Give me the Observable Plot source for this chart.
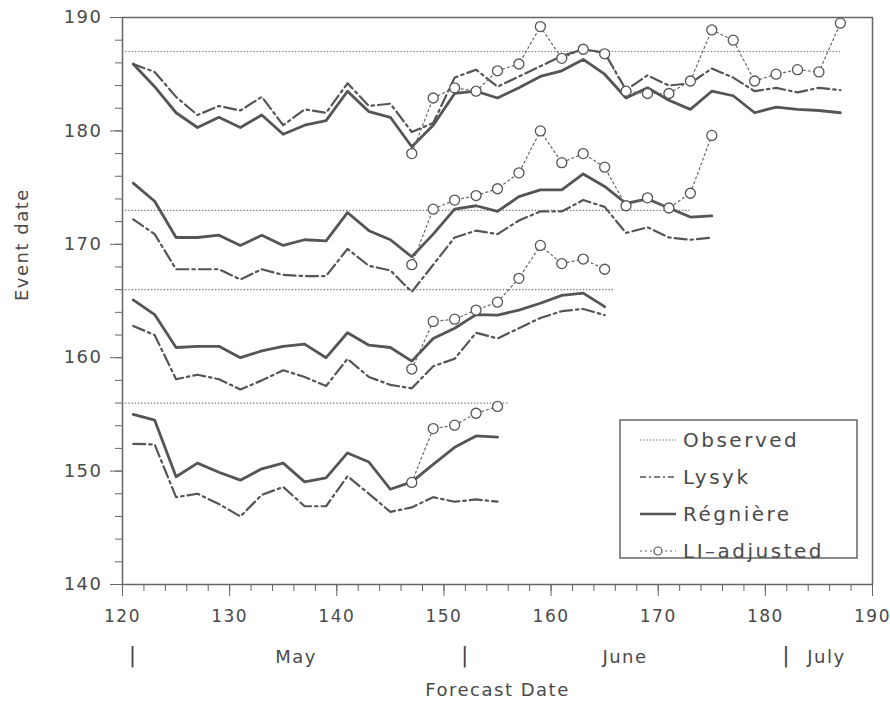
<!DOCTYPE html>
<html>
<head>
<meta charset="utf-8">
<script src="https://cdn.jsdelivr.net/npm/d3@7"></script>
<script src="https://cdn.jsdelivr.net/npm/@observablehq/plot@0.6"></script>
<style>
  body { margin: 0; background: #fff; }
  #chart { position: relative; width: 890px; height: 702px; }
  svg text { font-family: "DejaVu Sans", sans-serif; letter-spacing: 1.5px; }
</style>
</head>
<body>
<div id="chart"></div>
<script>
// Forecast issue days (day of year) and the days at which LI-adjusted forecasts exist
const forecastDays = [121,123,125,127,129,131,133,135,137,139,141,143,145,147,149,151,153,155,
  157,159,161,163,165,167,169,171,173,175,177,179,181,183,185,187];
const liDays = [147,149,151,153,155,157,159,161,163,165,167,169,171,173,175,177,179,181,183,185,187];

// Observed event dates
const observed = [187, 173, 166, 156];

// Event 187
const regniere187 = [185.9,183.9,181.6,180.3,181.2,180.3,181.4,179.7,180.5,180.9,183.5,181.7,181.2,178.6,180.5,183.3,183.5,
  182.9,183.8,184.8,185.3,186.3,185.0,182.9,183.8,182.7,181.9,183.5,183.1,181.6,182.1,181.9,181.8,181.6];
const lysyk187 = [185.9,185.2,183.0,181.4,182.2,181.8,183.0,180.5,181.9,181.6,184.2,182.2,182.4,179.9,180.7,184.7,185.4,
  183.9,184.8,185.7,186.6,187.2,186.9,183.6,184.9,184.0,184.2,185.5,184.7,183.5,183.8,183.4,183.8,183.6];
const liAdj187 = [178.0,182.9,183.8,183.5,185.3,185.9,189.2,186.4,187.2,186.8,183.5,183.3,183.3,184.4,188.9,188.0,
  184.4,185.0,185.4,185.2,189.5];

// Event 173
const regniere173 = [175.4,173.8,170.6,170.6,170.8,169.9,170.8,169.9,170.4,170.3,172.8,171.2,170.4,168.9,170.9,173.1,173.4,
  172.9,174.2,174.8,174.8,176.2,175.1,173.6,174.0,173.2,172.4,172.5];
const lysyk173 = [172.2,170.9,167.8,167.8,167.8,166.9,167.8,167.3,167.2,167.2,169.6,168.1,167.7,165.8,168.2,170.6,171.2,
  170.9,172.1,172.9,172.9,173.9,173.3,171.0,171.5,170.6,170.4,170.6];
const liAdj173 = [168.2,173.1,173.9,174.3,174.9,176.3,180.0,177.2,178.0,176.8,173.4,174.1,173.2,174.5,179.6];

// Event 166
const regniere166 = [165.1,163.8,160.9,161.0,161.0,160.0,160.6,161.0,161.2,160.0,162.2,161.1,160.9,159.7,161.7,162.6,163.8,
  163.75,164.2,164.8,165.5,165.7,164.5];
const lysyk166 = [162.8,162.0,158.1,158.5,158.1,157.2,158.0,158.9,158.3,157.5,159.9,158.3,157.6,157.3,159.25,159.9,162.2,
  161.7,162.6,163.5,164.1,164.3,163.75];
const liAdj166 = [159.0,163.2,163.4,164.2,164.9,167.0,169.9,168.3,168.7,167.8];

// Event 156
const regniere156 = [155.0,154.5,149.5,150.7,149.9,149.2,150.2,150.7,149.05,149.4,151.6,150.8,148.4,149.05,150.6,152.1,153.1,153.0];
const lysyk156 = [152.4,152.35,147.7,148.0,147.1,146.0,147.9,148.6,146.9,146.9,149.55,148.0,146.4,146.8,147.7,147.3,147.5,147.3];
const liAdj156 = [149.0,153.75,154.05,155.1,155.7];

// Axis ticks and month annotations
const xMajor = [120,130,140,150,160,170,180,190];
const xMinor = [120,122,124,126,128,130,132,134,136,138,140,142,144,146,148,150,152,154,156,158,160,162,164,166,168,
  170,172,174,176,178,180,182,184,186,188,190];
const yMajor = [140,150,160,170,180,190];
const yMinor = [140,142,144,146,148,150,152,154,156,158,160,162,164,166,168,170,172,174,176,178,180,182,184,186,188,190];
const monthStarts = [121, 152, 182];
const monthNames = ["May", "June", "July"];
const monthLabelDays = [136.2, 166.9, 185.7];

// Turn per-event arrays into rows for the line marks
function rows(values, days, event) {
  return values.map((v, i) => ({event, day: days[i], value: v}));
}
const regniereRows = [
  ...rows(regniere187, forecastDays, 187), ...rows(regniere173, forecastDays, 173),
  ...rows(regniere166, forecastDays, 166), ...rows(regniere156, forecastDays, 156)];
const lysykRows = [
  ...rows(lysyk187, forecastDays, 187), ...rows(lysyk173, forecastDays, 173),
  ...rows(lysyk166, forecastDays, 166), ...rows(lysyk156, forecastDays, 156)];
const liRows = [
  ...rows(liAdj187, liDays, 187), ...rows(liAdj173, liDays, 173),
  ...rows(liAdj166, liDays, 166), ...rows(liAdj156, liDays, 156)];

const ink = "#555";
const textInk = "#4a4a4a";

const chart = Plot.plot({
  width: 890,
  height: 702,
  marginLeft: 122,
  marginRight: 18,
  marginTop: 17,
  marginBottom: 118,
  style: {color: textInk, background: "#fff", overflow: "visible"},
  x: {domain: [120, 190]},
  y: {domain: [140, 190]},
  marks: [
    Plot.ruleY(observed, {y: d => d, x1: 120, x2: d => d, stroke: "#777", strokeWidth: 1.2, strokeDasharray: "1.4,1.8"}),
    Plot.line(lysykRows, {x: "day", y: "value", z: "event", stroke: ink, strokeWidth: 2.2, strokeDasharray: "12,4,2.5,4"}),
    Plot.line(regniereRows, {x: "day", y: "value", z: "event", stroke: ink, strokeWidth: 2.8}),
    Plot.line(liRows, {x: "day", y: "value", z: "event", stroke: "#666", strokeWidth: 1.2, strokeDasharray: "2,3"}),
    Plot.dot(liRows, {x: "day", y: "value", r: 5, fill: "white", stroke: ink, strokeWidth: 1.3}),
    Plot.frame({stroke: "#666", strokeWidth: 1.5}),
    Plot.axisX({ticks: xMajor, tickSize: 12, tickPadding: 13, fontSize: 17, label: null, stroke: "#666"}),
    Plot.axisX({ticks: xMinor, tickSize: 7, tickFormat: () => "", label: null, stroke: "#666"}),
    Plot.axisY({ticks: yMajor, tickSize: 12, tickPadding: 8, fontSize: 18, label: null, stroke: "#666"}),
    Plot.axisY({ticks: yMinor, tickSize: 7, tickFormat: () => "", label: null, stroke: "#666"}),
    Plot.text(monthStarts, {x: d => d, text: () => "|", frameAnchor: "bottom", dy: 77, fontSize: 22}),
    Plot.text(monthNames, {x: (d, i) => monthLabelDays[i], text: d => d, frameAnchor: "bottom", dy: 78, fontSize: 18}),
    Plot.text(["Forecast Date"], {frameAnchor: "bottom", dy: 111, fontSize: 18}),
    Plot.text(["Event date"], {frameAnchor: "left", dx: -100, rotate: -90, fontSize: 18})
  ]
});

// Legend box in the lower-right of the plotting area
const svg = d3.select(chart);
const lg = svg.append("g").attr("transform", "translate(620,420)").attr("text-anchor", "start");
lg.append("rect").attr("width", 237).attr("height", 138)
  .attr("fill", "white").attr("stroke", "#666").attr("stroke-width", 1.5);
const entries = [
  {label: "Observed", dash: "1.4,1.8", width: 1.2, color: "#777", dot: false},
  {label: "Lysyk", dash: "6,3,2,3", width: 1.6, color: ink, dot: false},
  {label: "Régnière", dash: null, width: 2.6, color: ink, dot: false},
  {label: "LI\u2013adjusted", dash: "2,3", width: 1.2, color: "#666", dot: true}
];
entries.forEach((e, i) => {
  const y = 20 + i * 37;
  lg.append("line").attr("x1", 20).attr("x2", 56).attr("y1", y).attr("y2", y)
    .attr("stroke", e.color).attr("stroke-width", e.width)
    .attr("stroke-dasharray", e.dash);
  if (e.dot) lg.append("circle").attr("cx", 38).attr("cy", y).attr("r", 4)
    .attr("fill", "white").attr("stroke", ink).attr("stroke-width", 1.2);
  lg.append("text").attr("x", 63).attr("y", y).attr("dy", "0.35em")
    .attr("text-anchor", "start")
    .attr("fill", textInk).attr("font-size", 20).style("letter-spacing", "2.5px")
    .text(e.label);
});

document.getElementById("chart").appendChild(chart);
</script>
</body>
</html>
